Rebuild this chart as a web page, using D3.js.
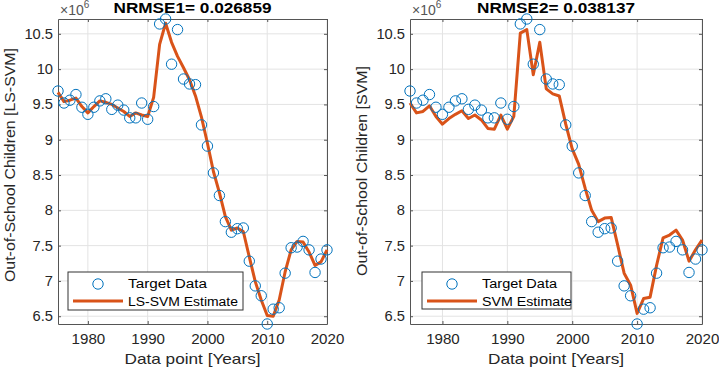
<!DOCTYPE html>
<html>
<head>
<meta charset="utf-8">
<script src="https://cdn.jsdelivr.net/npm/d3@7/dist/d3.min.js"></script>
<style>
  html, body { margin: 0; padding: 0; background: #fff; }
  svg { display: block; }
  text { font-family: "Liberation Sans", Arial, Helvetica, sans-serif; }
</style>
</head>
<body>
<svg id="chart" width="719" height="369"></svg>
<script>
// ---- Data (values in units of 1e6) ----
const years = [1975,1976,1977,1978,1979,1980,1981,1982,1983,1984,1985,1986,1987,1988,1989,1990,
  1991,1992,1993,1994,1995,1996,1997,1998,1999,2000,2001,2002,2003,2004,2005,2006,2007,2008,2009,2010,
  2011,2012,2013,2014,2015,2016,2017,2018,2019,2020];

const targetData = [9.69,9.52,9.56,9.64,9.46,9.36,9.46,9.55,9.58,9.43,9.49,9.42,9.31,9.31,9.52,9.29,
  9.47,10.64,10.71,10.07,10.56,9.86,9.79,9.78,9.21,8.91,8.53,8.21,7.84,7.69,7.74,7.75,7.28,6.93,6.79,6.39,
  6.60,6.62,7.11,7.47,7.48,7.56,7.44,7.12,7.31,7.44];

const lssvmEstimate = [9.67,9.54,9.56,9.59,9.47,9.38,9.47,9.55,9.53,9.50,9.45,9.40,9.33,9.38,9.35,9.33,
  9.60,10.35,10.65,10.38,10.18,10.02,9.85,9.62,9.32,8.95,8.55,8.25,7.91,7.72,7.75,7.70,7.34,6.99,6.73,6.51,
  6.50,6.73,7.13,7.44,7.56,7.55,7.41,7.22,7.27,7.44];

const svmEstimate = [9.52,9.38,9.40,9.48,9.33,9.22,9.30,9.36,9.41,9.30,9.35,9.28,9.16,9.15,9.35,9.15,
  9.33,10.51,10.56,9.92,10.38,9.72,9.65,9.62,9.22,8.87,8.65,8.31,8.00,7.84,7.89,7.90,7.51,7.11,6.94,6.54,
  6.75,6.77,7.22,7.61,7.65,7.72,7.58,7.28,7.44,7.58];

const xTicks = [1980,1990,2000,2010,2020];
const yTicks = [6.5,7,7.5,8,8.5,9,9.5,10,10.5];
const yDomain = [6.39, 10.71];
const xDomain = [1975, 2020];

const panels = [
  { title: "NRMSE1= 0.026859", ylabel: "Out-of-School  Children [LS-SVM]", est: lssvmEstimate,
    estName: "LS-SVM Estimate", left: 58, right: 327, ylabLen: 234, ylabMid: 165,
    legend: {x: 68, y: 272, w: 175, h: 38, t1: 79, t2: 110} },
  { title: "NRMSE2= 0.038137", ylabel: "Out-of-School  Children [SVM]", est: svmEstimate,
    estName: "SVM Estimate", left: 410, right: 702, ylabLen: 210, ylabMid: 171,
    legend: {x: 422, y: 272, w: 149, h: 37, t1: 75, t2: 90} }
];

const plotTop = 19, plotBottom = 324;
const svg = d3.select("#chart");
const blue = "#0072BD", orange = "#D95319", axisCol = "#262626";

// horizontally stretch texts (reference glyphs are wider than Arial)
function stretch(sel, sx) {
  sel.each(function() {
    const w = this.getComputedTextLength();
    d3.select(this).attr("textLength", w * sx).attr("lengthAdjust", "spacingAndGlyphs");
  });
}

panels.forEach(p => {
  const x = d3.scaleLinear().domain(xDomain).range([p.left, p.right]);
  const y = d3.scaleLinear().domain(yDomain).range([plotBottom, plotTop]);
  const g = svg.append("g");

  // grid
  g.append("g").selectAll("line").data(xTicks).join("line")
    .attr("x1", d => x(d)).attr("x2", d => x(d)).attr("y1", plotTop).attr("y2", plotBottom)
    .attr("stroke", "#e3e3e3").attr("stroke-width", 1);
  g.append("g").selectAll("line").data(yTicks).join("line")
    .attr("x1", p.left).attr("x2", p.right).attr("y1", d => y(d)).attr("y2", d => y(d))
    .attr("stroke", "#e3e3e3").attr("stroke-width", 1);

  // axes
  const xAxis = d3.axisBottom(x).tickValues(xTicks).tickFormat(d3.format("d")).tickSizeInner(-3).tickSizeOuter(0).tickPadding(10);
  const xa = g.append("g").attr("transform", `translate(0,${plotBottom})`).call(xAxis);
  const xTop = d3.axisTop(x).tickValues(xTicks).tickFormat("").tickSizeInner(-3).tickSizeOuter(0);
  const xt = g.append("g").attr("transform", `translate(0,${plotTop})`).call(xTop);
  const yAxis = d3.axisLeft(y).tickValues(yTicks).tickFormat(d => d3.format("")(d)).tickSizeInner(-3).tickSizeOuter(0).tickPadding(5);
  const ya = g.append("g").attr("transform", `translate(${p.left},0)`).call(yAxis);
  const yRight = d3.axisRight(y).tickValues(yTicks).tickFormat("").tickSizeInner(-3).tickSizeOuter(0);
  const yr = g.append("g").attr("transform", `translate(${p.right},0)`).call(yRight);
  [xa, xt, ya, yr].forEach(a => {
    a.select(".domain").attr("stroke", "#555").attr("stroke-width", 1);
    a.selectAll(".tick line").attr("stroke", "#555");
    a.selectAll("text").attr("fill", axisCol).style("font-size", "14px")
      .style("font-family", "'Liberation Sans', Arial, sans-serif");
  });
  stretch(xa.selectAll(".tick text"), 1.08);
  stretch(ya.selectAll(".tick text"), 1.05);

  // estimate line
  const line = d3.line().x((d, i) => x(years[i])).y(d => y(d));
  g.append("path").datum(p.est).attr("d", line)
    .attr("fill", "none").attr("stroke", orange).attr("stroke-width", 3)
    .attr("stroke-linejoin", "round");

  // target circles
  g.append("g").selectAll("circle").data(targetData).join("circle")
    .attr("cx", (d, i) => x(years[i])).attr("cy", d => y(d)).attr("r", 5.2)
    .attr("fill", "none").attr("stroke", blue).attr("stroke-width", 1);

  // exponent
  g.append("text").attr("x", p.left + 2).attr("y", 15).attr("fill", "#555")
    .style("font-size", "14px").html('×10<tspan dy="-7" style="font-size:10px">6</tspan>');

  // title
  g.append("text").attr("x", (p.left + p.right) / 2).attr("y", 12.5).attr("text-anchor", "middle")
    .attr("fill", "#000").style("font-size", "14px").style("font-weight", "bold")
    .attr("textLength", 158).attr("lengthAdjust", "spacingAndGlyphs").text(p.title);

  // x label
  g.append("text").attr("x", (p.left + p.right) / 2).attr("y", 364).attr("text-anchor", "middle")
    .attr("fill", axisCol).style("font-size", "14.5px")
    .attr("textLength", 136).attr("lengthAdjust", "spacingAndGlyphs").text("Data point [Years]");

  // y label
  g.append("text").attr("transform", `translate(${p.left - 43},${p.ylabMid}) rotate(-90)`)
    .attr("text-anchor", "middle").attr("fill", axisCol).style("font-size", "15px")
    .attr("textLength", p.ylabLen).attr("lengthAdjust", "spacingAndGlyphs").text(p.ylabel);

  // legend
  const L = p.legend;
  const lg = g.append("g");
  lg.append("rect").attr("x", L.x).attr("y", L.y).attr("width", L.w).attr("height", L.h)
    .attr("fill", "#fff").attr("stroke", "#333").attr("stroke-width", 1);
  lg.append("circle").attr("cx", L.x + 30).attr("cy", L.y + 12).attr("r", 5.2)
    .attr("fill", "none").attr("stroke", blue).attr("stroke-width", 1);
  lg.append("line").attr("x1", L.x + 5).attr("x2", L.x + 55).attr("y1", L.y + 29).attr("y2", L.y + 29)
    .attr("stroke", orange).attr("stroke-width", 3);
  lg.append("text").attr("x", L.x + 60).attr("y", L.y + 16).attr("fill", "#000")
    .style("font-size", "12.5px").attr("textLength", L.t1).attr("lengthAdjust", "spacingAndGlyphs")
    .text("Target Data");
  lg.append("text").attr("x", L.x + 60).attr("y", L.y + 34).attr("fill", "#000")
    .style("font-size", "12.5px").attr("textLength", L.t2).attr("lengthAdjust", "spacingAndGlyphs")
    .text(p.estName);
});
</script>
</body>
</html>
